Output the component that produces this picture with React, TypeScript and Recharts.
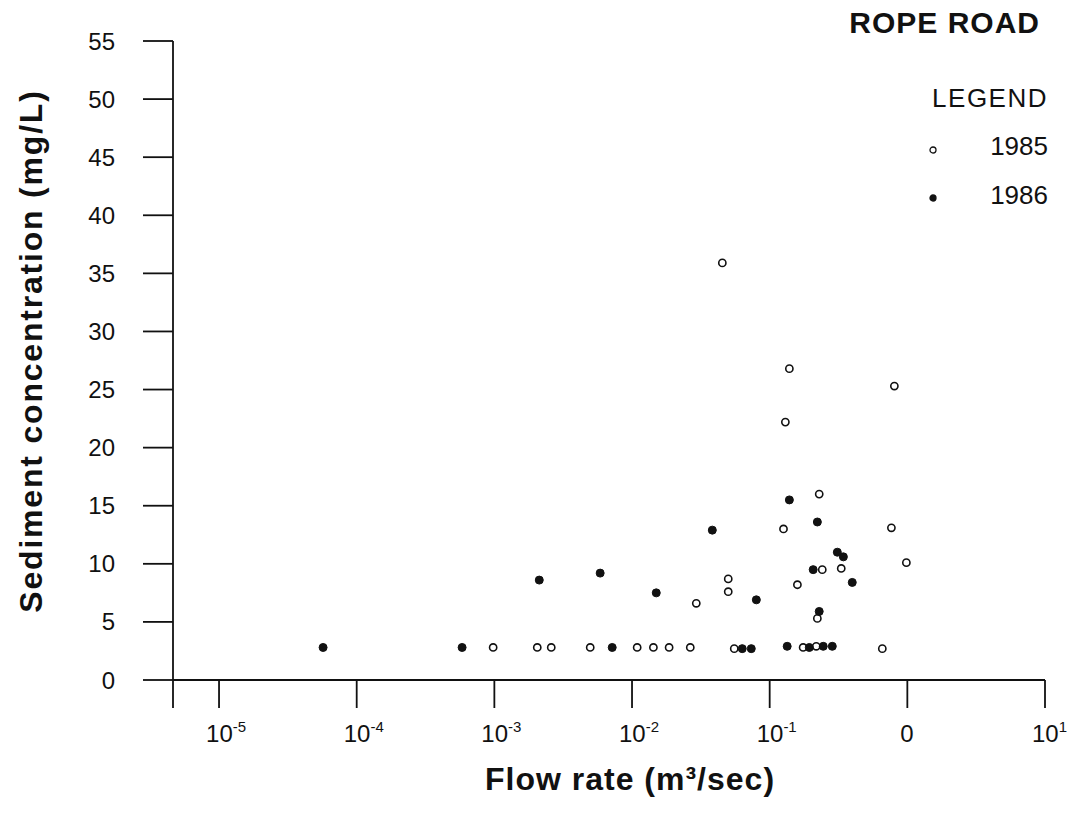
import React from "react";
import { ScatterChart, Scatter, XAxis, YAxis, Legend, Label } from "recharts";

// values
const flow1985 = [
  0.00098, 0.00205, 0.00259, 0.00497, 0.0109, 0.0143, 0.0186, 0.0265, 0.0553,
  0.175, 0.218, 0.658, 0.0293, 0.05, 0.05, 0.159, 0.222, 0.241, 0.331, 0.229,
  0.126, 0.766, 0.984, 0.0453, 0.139, 0.805, 0.13,
];
const conc1985 = [
  2.8, 2.8, 2.8, 2.8, 2.8, 2.8, 2.8, 2.8, 2.7, 2.8, 2.9, 2.7, 6.6, 8.7, 7.6,
  8.2, 5.3, 9.5, 9.6, 16.0, 13.0, 13.1, 10.1, 35.9, 26.8, 25.3, 22.2,
];
const flow1986 = [
  0.000057, 0.000583, 0.00718, 0.0632, 0.0735, 0.134, 0.194, 0.245, 0.285,
  0.00212, 0.00587, 0.015, 0.0383, 0.139, 0.222, 0.31, 0.343, 0.207, 0.398,
  0.08, 0.229,
];
const conc1986 = [
  2.8, 2.8, 2.8, 2.7, 2.7, 2.9, 2.8, 2.9, 2.9, 8.6, 9.2, 7.5, 12.9, 15.5, 13.6,
  11.0, 10.6, 9.5, 8.4, 6.9, 5.9,
];

const seriesNames = ["1985", "1986"];
const X_MIN = 4.63e-6;
const xTicks = [X_MIN, 1e-5, 1e-4, 1e-3, 1e-2, 1e-1, 1, 10];
const xTickBase = ["", "10", "10", "10", "10", "10", "0", "10"];
const xTickExp = ["", "-5", "-4", "-3", "-2", "-1", "", "1"];
const yTicks = [0, 5, 10, 15, 20, 25, 30, 35, 40, 45, 50, 55];

const data1985 = flow1985.map((f, i) => ({ flow: f, conc: conc1985[i] }));
const data1986 = flow1986.map((f, i) => ({ flow: f, conc: conc1986[i] }));

const FONT = "'Liberation Sans', Arial, Helvetica, sans-serif";

const XTick = (props: any) => {
  const { x, y, index } = props;
  const base = xTickBase[index];
  if (!base) return null;
  const start = base === "0" ? x - 7 : x - 13;
  return (
    <text x={start} y={y + 30} fontSize={24} fontFamily={FONT} fill="#111">
      {base}
      {xTickExp[index] && (
        <tspan fontSize={15} dy={-10}>
          {xTickExp[index]}
        </tspan>
      )}
    </text>
  );
};

const OpenDot = (props: any) => (
  <circle cx={props.cx} cy={props.cy} r={3.6} fill="#fff" stroke="#111" strokeWidth={1.6} />
);
const FilledDot = (props: any) => (
  <circle cx={props.cx} cy={props.cy} r={4} fill="#111" stroke="#111" strokeWidth={1} />
);

const LegendBox = () => (
  <div style={{ position: "relative", width: 1074, height: 220, fontFamily: FONT, color: "#111" }}>
    <div style={{ position: "absolute", right: 34, top: 8, fontSize: 30, fontWeight: "bold", lineHeight: 1, letterSpacing: 1 }}>
      ROPE ROAD
    </div>
    <div style={{ position: "absolute", right: 26, top: 85, fontSize: 26, lineHeight: 1, letterSpacing: 1.5 }}>
      LEGEND
    </div>
    {seriesNames.map((name, i) => (
      <React.Fragment key={name}>
        <svg style={{ position: "absolute", left: 928, top: 145 + i * 48 }} width={10} height={10}>
          <circle cx={5} cy={5} r={3} fill={i === 0 ? "#fff" : "#111"} stroke="#111" strokeWidth={1.3} />
        </svg>
        <div style={{ position: "absolute", right: 26, top: 133 + i * 49, fontSize: 26, lineHeight: 1 }}>
          {name}
        </div>
      </React.Fragment>
    ))}
  </div>
);

export default function App() {
  return (
    <div style={{ position: "absolute", left: 0, top: 0, background: "#fff" }}>
      <ScatterChart width={1074} height={818} margin={{ top: 41, right: 29, left: 0, bottom: 0 }}>
        <XAxis
          type="number"
          dataKey="flow"
          scale="log"
          domain={[X_MIN, 10]}
          ticks={xTicks}
          interval={0}
          allowDataOverflow
          height={138}
          tickSize={28}
          tickMargin={4}
          tick={<XTick />}
          axisLine={{ stroke: "#111", strokeWidth: 1.8 }}
          tickLine={{ stroke: "#111", strokeWidth: 1.8 }}
        >
          <Label
            content={() => (
              <text
                x={630}
                y={790}
                textAnchor="middle"
                fontSize={32}
                fontWeight="bold"
                fontFamily={FONT}
                letterSpacing={1}
                fill="#111"
              >
                Flow rate (m³/sec)
              </text>
            )}
          />
        </XAxis>
        <YAxis
          type="number"
          dataKey="conc"
          domain={[0, 55]}
          ticks={yTicks}
          interval={0}
          width={173}
          tickSize={30}
          tickMargin={28}
          tick={{ fontSize: 24, fill: "#111", fontFamily: FONT }}
          axisLine={{ stroke: "#111", strokeWidth: 1.8 }}
          tickLine={{ stroke: "#111", strokeWidth: 1.8 }}
        >
          <Label
            content={() => (
              <text
                x={0}
                y={0}
                transform="translate(42, 351) rotate(-90)"
                textAnchor="middle"
                fontSize={32}
                fontWeight="bold"
                fontFamily={FONT}
                letterSpacing={1.8}
                fill="#111"
              >
                Sediment concentration (mg/L)
              </text>
            )}
          />
        </YAxis>
        <Legend
          layout="horizontal"
          verticalAlign="middle"
          align="center"
          content={() => <LegendBox />}
          wrapperStyle={{ position: "absolute", top: 0, left: 0, width: 1074, height: 220 }}
        />
        <Scatter name={seriesNames[0]} data={data1985} shape={<OpenDot />} isAnimationActive={false} />
        <Scatter name={seriesNames[1]} data={data1986} shape={<FilledDot />} isAnimationActive={false} />
      </ScatterChart>
    </div>
  );
}
